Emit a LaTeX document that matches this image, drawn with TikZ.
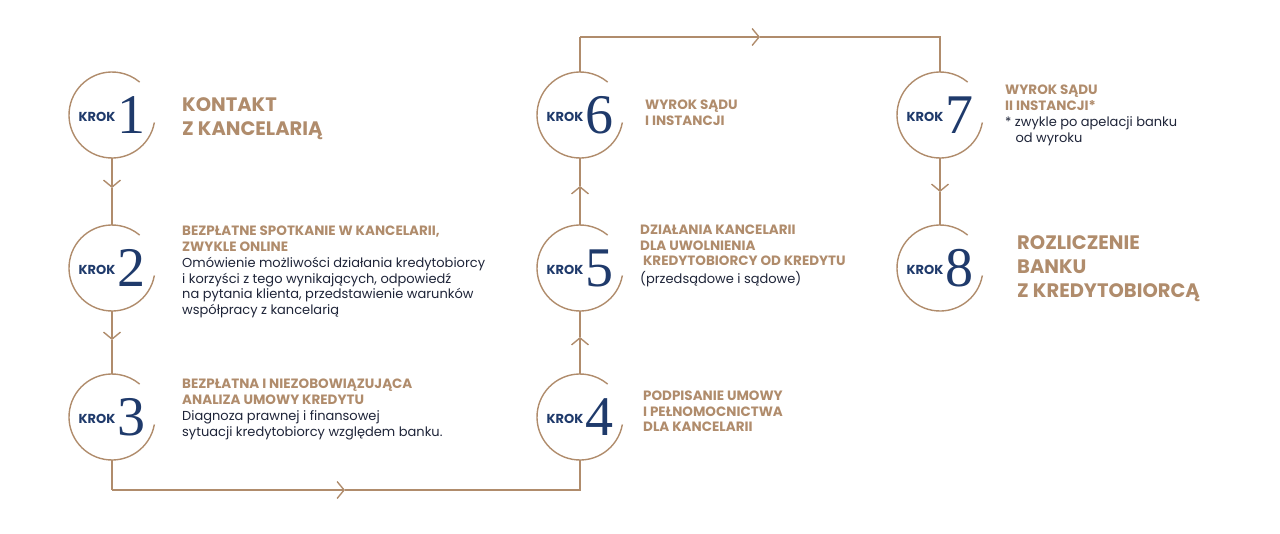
\documentclass[tikz,border=0pt]{standalone}
\usepackage{fontspec}
\setmainfont{Poppins}
\newfontfamily\digitfont{Liberation Serif}
\usetikzlibrary{arrows.meta}
\definecolor{gold}{HTML}{B08C6C}
\definecolor{navy}{HTML}{1F3A6B}
\definecolor{bodyc}{HTML}{1E2438}
\begin{document}
\begin{tikzpicture}[x=1pt,y=-1pt,
  conn/.style={draw=gold,line width=1.4pt},
  arr/.style={conn,-{Straight Barb[length=7pt,width=17pt,line width=1.4pt]}},
  kstp/.style={circle,minimum size=86pt,inner sep=0pt,font=\fontsize{13}{13}\selectfont\bfseries\color{navy}},
  ttl/.style={anchor=north west,inner sep=0pt,align=left,text=gold,font=\fontsize{13.5}{15.5}\selectfont\bfseries},
  big/.style={anchor=north west,inner sep=0pt,align=left,text=gold,font=\fontsize{19.5}{24}\selectfont\bfseries}]
\useasboundingbox (0,0) rectangle (1280,533);
\newcommand\kstep[4]{%
  \node[kstp] (#1) at (#2,#3) {\raisebox{12pt}{KROK}\,{\digitfont\fontsize{56}{56}\selectfont\mdseries #4}};
  \draw[conn] (#1.center) ++(10:43) arc (10:310:43);}
\kstep{c1}{112}{115}{1}
\kstep{c2}{112}{268}{2}
\kstep{c3}{112}{417}{3}
\kstep{c4}{580}{417}{4}
\kstep{c5}{580}{268}{5}
\kstep{c6}{580}{115}{6}
\kstep{c7}{940}{115}{7}
\kstep{c8}{940}{268}{8}
% connectors
\coordinate (a12) at (112,188);
\coordinate (a23) at (112,340);
\draw[arr] (c1.south) -- (a12); \draw[conn] (a12) -- (c2.north);
\draw[arr] (c2.south) -- (a23); \draw[conn] (a23) -- (c3.north);
\coordinate (b1) at (112,490); \coordinate (b2) at (580,490); \coordinate (b3) at (345,490);
\draw[conn] (c3.south) -- (b1); \draw[arr] (b1) -- (b3); \draw[conn] (b3) -- (b2) -- (c4.south);
\coordinate (a45) at (580,337);
\coordinate (a56) at (580,186);
\draw[arr] (c4.north) -- (a45); \draw[conn] (a45) -- (c5.south);
\draw[arr] (c5.north) -- (a56); \draw[conn] (a56) -- (c6.south);
\coordinate (t1) at (580,37); \coordinate (t2) at (940,37); \coordinate (t3) at (760,37);
\draw[conn] (c6.north) -- (t1); \draw[arr] (t1) -- (t3); \draw[conn] (t3) -- (t2) -- (c7.north);
\coordinate (a78) at (940,192);
\draw[arr] (c7.south) -- (a78); \draw[conn] (a78) -- (c8.north);
% texts
\node[big] (x1) at (182,97) {KONTAKT\\Z KANCELARIĄ};
\node[ttl] (x2) at (182,226) {BEZPŁATNE SPOTKANIE W KANCELARII,\\ZWYKLE ONLINE\\[1pt]
 {\fontsize{13}{17}\selectfont\mdseries\color{bodyc}Omówienie możliwości działania kredytobiorcy}\\
 {\fontsize{13}{17}\selectfont\mdseries\color{bodyc}i korzyści z tego wynikających, odpowiedź}\\
 {\fontsize{13}{17}\selectfont\mdseries\color{bodyc}na pytania klienta, przedstawienie warunków}\\
 {\fontsize{13}{17}\selectfont\mdseries\color{bodyc}współpracy z kancelarią}};
\node[ttl] (x3) at (182,379) {BEZPŁATNA I NIEZOBOWIĄZUJĄCA\\ANALIZA UMOWY KREDYTU\\[1pt]
 {\fontsize{13}{17}\selectfont\mdseries\color{bodyc}Diagnoza prawnej i finansowej}\\
 {\fontsize{13}{17}\selectfont\mdseries\color{bodyc}sytuacji kredytobiorcy względem banku.}};
\node[ttl] (x4) at (643,391) {PODPISANIE UMOWY\\I PEŁNOMOCNICTWA\\DLA KANCELARII};
\node[ttl] (x5) at (640,225) {DZIAŁANIA KANCELARII\\DLA UWOLNIENIA\\\ KREDYTOBIORCY OD KREDYTU\\[2pt]
 {\fontsize{13}{17}\selectfont\mdseries\color{bodyc}(przedsądowe i sądowe)}};
\node[ttl] (x6) at (645,100) {WYROK SĄDU\\I INSTANCJI};
\node[ttl] (x7) at (1005,85) {WYROK SĄDU\\II INSTANCJI*\\[1pt]
 {\fontsize{13}{16}\selectfont\mdseries\color{bodyc}* zwykle po apelacji banku}\\
 {\fontsize{13}{16}\selectfont\mdseries\color{bodyc}\ \ \ od wyroku}};
\node[big] (x8) at (1017,235) {ROZLICZENIE\\BANKU\\Z KREDYTOBIORCĄ};
\end{tikzpicture}
\end{document}
